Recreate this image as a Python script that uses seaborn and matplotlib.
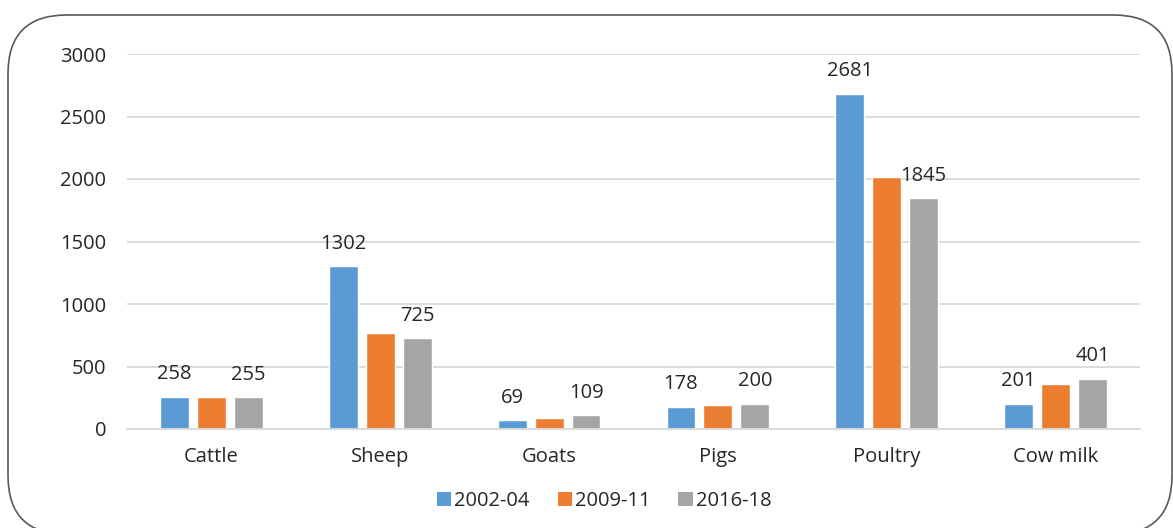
import numpy as np
import pandas as pd
import matplotlib
matplotlib.use("Agg")
import matplotlib.pyplot as plt
from matplotlib.patches import FancyBboxPatch, Patch
import seaborn as sns

categories = ["Cattle", "Sheep", "Goats", "Pigs", "Poultry", "Cow milk"]
periods = ["2002-04", "2009-11", "2016-18"]
values_2002_04 = [258, 1302, 69, 178, 2681, 201]
values_2009_11 = [256, 768, 88, 192, 2016, 362]
values_2016_18 = [255, 725, 109, 200, 1845, 401]
labelled = ["2002-04", "2016-18"]
yticks = [0, 500, 1000, 1500, 2000, 2500, 3000]

colors = ["#5B9BD5", "#ED7D31", "#A5A5A5"]
FS = 14.5

df = pd.DataFrame({
    "category": categories * 3,
    "period": np.repeat(periods, len(categories)),
    "value": values_2002_04 + values_2009_11 + values_2016_18,
})

sns.set_theme(style="white")
plt.rcParams["font.family"] = ["Open Sans", "DejaVu Sans"]

fig = plt.figure(figsize=(11.73, 5.28), dpi=100)
ax = fig.add_axes([127 / 1173, 1 - 429 / 528, (1140 - 127) / 1173, (429 - 54) / 528])

sns.barplot(data=df, x="category", y="value", hue="period", order=categories,
            hue_order=periods, palette=colors, width=0.657, gap=0.22,
            saturation=1, ax=ax, legend=False)

ax.set_xlim(-0.5, len(categories) - 0.5)
ax.set_ylim(0, 3000)
ax.set_yticks(yticks)
ax.set_yticklabels([str(t) for t in yticks])
ax.set_xlabel("")
ax.set_ylabel("")
ax.yaxis.grid(True, color="#D9D9D9", linewidth=1.3)
ax.set_axisbelow(True)
for side in ["top", "right", "left"]:
    ax.spines[side].set_visible(False)
ax.spines["bottom"].set_color("#D9D9D9")
ax.spines["bottom"].set_linewidth(1.3)
ax.tick_params(axis="both", length=0, labelsize=FS, colors="#262626")
ax.tick_params(axis="x", pad=13)
ax.tick_params(axis="y", pad=15)

# value labels for the first and last period
for container, period in zip(ax.containers, periods):
    if period in labelled:
        ax.bar_label(container, labels=[f"{v:.0f}" for v in container.datavalues],
                     padding=9, fontsize=FS, color="#262626")

handles = [Patch(facecolor=c, edgecolor="none") for c in colors]
fig.legend(handles, periods, loc="center", bbox_to_anchor=(604 / 1173, 27 / 528),
           ncol=3, frameon=False, fontsize=FS, handlelength=0.7, handleheight=0.7,
           handletextpad=0.15, columnspacing=1.4)

# rounded outline around the chart area
border = FancyBboxPatch((8 / 1173, -0.012), (1172 - 8) / 1173, 1.012 - 15 / 528,
                        boxstyle="round,pad=0,rounding_size=0.05",
                        transform=fig.transFigure, facecolor="none",
                        edgecolor="#595959", linewidth=1.2, mutation_aspect=1173 / 528)
fig.patches.append(border)

fig.savefig("out.png", dpi=100)
